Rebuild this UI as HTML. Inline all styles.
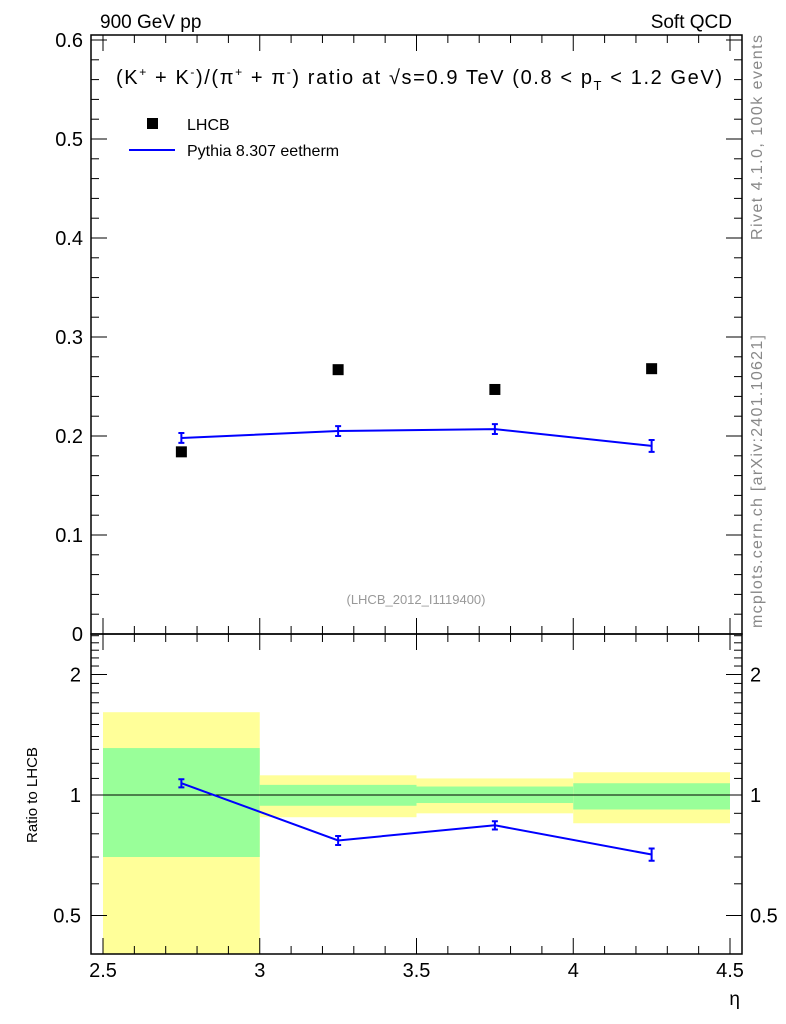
<!DOCTYPE html>
<html><head><meta charset="utf-8"><style>
body{margin:0;background:#fff}
svg{display:block;font-family:"Liberation Sans",Arial,sans-serif}
</style></head><body>
<svg id="c" width="786" height="1024" viewBox="0 0 786 1024" xmlns="http://www.w3.org/2000/svg">
<text x="100" y="28" font-size="19">900 GeV pp</text>
<text x="732" y="28" font-size="19" text-anchor="end">Soft QCD</text>
<text x="116" y="84" font-size="20" textLength="606" lengthAdjust="spacing">(K<tspan dy="-8" font-size="12">+</tspan><tspan dy="8"> + K</tspan><tspan dy="-8" font-size="12">-</tspan><tspan dy="8">)/(π</tspan><tspan dy="-8" font-size="12">+</tspan><tspan dy="8"> + π</tspan><tspan dy="-8" font-size="12">-</tspan><tspan dy="8">) ratio at √s=0.9 TeV (0.8 &lt; p</tspan><tspan dy="6" font-size="13">T</tspan><tspan dy="-6"> &lt; 1.2 GeV)</tspan></text>
<rect x="147" y="118" width="11" height="11" fill="#000"/>
<text x="187" y="130" font-size="16">LHCB</text>
<line x1="129" y1="150" x2="175" y2="150" stroke="#0000ff" stroke-width="2"/>
<text x="187" y="156" font-size="16">Pythia 8.307 eetherm</text>
<text x="416" y="604" font-size="13" fill="#999" text-anchor="middle">(LHCB_2012_I1119400)</text>
<text transform="translate(762,240) rotate(-90)" font-size="16" fill="#888" textLength="205" lengthAdjust="spacing">Rivet 4.1.0,  100k events</text>
<text transform="translate(762,628) rotate(-90)" font-size="16" fill="#888" textLength="293" lengthAdjust="spacing">mcplots.cern.ch [arXiv:2401.10621]</text>
<text transform="translate(37,795) rotate(-90)" font-size="15" text-anchor="middle">Ratio to LHCB</text>
<text x="740" y="1005" font-size="19" text-anchor="end">η</text>
<g id="g"></g>
</svg>
<script>
const binEdges=[2.5,3,3.5,4,4.5];
const xCenters=[2.75,3.25,3.75,4.25];
const lhcb=[0.184,0.267,0.247,0.268];
const pythia=[0.198,0.205,0.207,0.190];
const pythiaErr=[0.005,0.005,0.005,0.006];
const ratio=[1.07,0.77,0.84,0.71];
const ratioErr=[0.025,0.02,0.02,0.025];
const greenLo=[0.70,0.94,0.955,0.92];
const greenHi=[1.31,1.06,1.05,1.07];
const yellowLo=[0.30,0.88,0.90,0.85];
const yellowHi=[1.61,1.12,1.10,1.14];
const yTicks=[0,0.1,0.2,0.3,0.4,0.5,0.6];
const yTickLabels=["0","0.1","0.2","0.3","0.4","0.5","0.6"];
const xTicks=[2.5,3,3.5,4,4.5];
const xTickLabels=["2.5","3","3.5","4","4.5"];
const rTicks=[0.5,1,2];
const rTickLabels=["0.5","1","2"];

const NS="http://www.w3.org/2000/svg",G=document.getElementById('g');
const L=91,R=742,T=35,M=634,B=954;
const X=v=>103+(v-2.5)*313.5;
const Y=v=>634-v*990;
const RY=v=>795-Math.log2(v)*120.5;
function mk(t,a,name){const e=document.createElementNS(NS,t);for(const k in a)e.setAttribute(k,a[k]);


G.appendChild(e);return e;}
const cl=v=>Math.max(M,Math.min(B,v));
for(let i=0;i<4;i++){
 const x0=X(binEdges[i]),x1=X(binEdges[i+1]);
 let a=cl(RY(yellowHi[i])),b=cl(RY(yellowLo[i]));
 mk('rect',{x:x0,y:a,width:x1-x0,height:b-a,fill:'#ffff99'},'yellow-band-'+i);
 a=cl(RY(greenHi[i]));b=cl(RY(greenLo[i]));
 mk('rect',{x:x0,y:a,width:x1-x0,height:b-a,fill:'#99ff99'},'green-band-'+i);
}
mk('line',{x1:L,x2:R,y1:RY(1),y2:RY(1),stroke:'#000','stroke-width':1},'ratio-unity-line');
mk('rect',{x:L,y:T,width:R-L,height:M-T,fill:'none',stroke:'#000','stroke-width':1.5},'main-frame');
mk('rect',{x:L,y:M,width:R-L,height:B-M,fill:'none',stroke:'#000','stroke-width':1.5},'ratio-frame');
for(let v=0;v<=0.6001;v+=0.02){const y=Y(v);if(y<T)continue;const maj=Math.abs(v*10-Math.round(v*10))<1e-6;const l=maj?16:8;
 mk('line',{x1:L,x2:L+l,y1:y,y2:y,stroke:'#000'},'y-tick');mk('line',{x1:R,x2:R-l,y1:y,y2:y,stroke:'#000'},'y-tick-right');}
yTicks.forEach((v,i)=>{const t=mk('text',{x:L-8,y:Y(v)+7,'font-size':20,'text-anchor':'end'},'y-tick-label');t.textContent=yTickLabels[i];});
for(let v=2.5;v<=4.5001;v+=0.1){const maj=Math.abs(v*2-Math.round(v*2))<1e-6;const l=maj?16:8;const x=X(v);
 mk('line',{x1:x,x2:x,y1:M,y2:M-l,stroke:'#000'},'x-tick');mk('line',{x1:x,x2:x,y1:T,y2:T+l,stroke:'#000'},'x-tick-top');
 mk('line',{x1:x,x2:x,y1:B,y2:B-l,stroke:'#000'},'x-tick-ratio');mk('line',{x1:x,x2:x,y1:M,y2:M+l,stroke:'#000'},'x-tick-ratio-top');}
xTicks.forEach((v,i)=>{const t=mk('text',{x:X(v),y:977,'font-size':20,'text-anchor':'middle'},'x-tick-label');t.textContent=xTickLabels[i];});
const rm=[0.4,0.5,0.6,0.7,0.8,0.9,1,1.1,1.2,1.3,1.4,1.5,1.6,1.7,1.8,1.9,2,2.1,2.2,2.3,2.4,2.5];
rm.forEach(v=>{const y=RY(v);if(y<M||y>B)return;const maj=rTicks.includes(v);const l=maj?16:8;
 mk('line',{x1:L,x2:L+l,y1:y,y2:y,stroke:'#000'},'ratio-tick');mk('line',{x1:R,x2:R-l,y1:y,y2:y,stroke:'#000'},'ratio-tick-right');});
rTicks.forEach((v,i)=>{const t=mk('text',{x:L-10,y:RY(v)+7,'font-size':20,'text-anchor':'end'},'ratio-tick-label');t.textContent=rTickLabels[i];
 const t2=mk('text',{x:R+8,y:RY(v)+7,'font-size':20},'ratio-tick-label-right');t2.textContent=rTickLabels[i];});
mk('polyline',{points:xCenters.map((x,i)=>X(x)+','+Y(pythia[i])).join(' '),fill:'none',stroke:'#0000ff','stroke-width':2},'pythia-line');
xCenters.forEach((x,i)=>{const cx=X(x),a=Y(pythia[i]+pythiaErr[i]),b=Y(pythia[i]-pythiaErr[i]);
 mk('path',{d:`M${cx},${a}V${b}M${cx-3},${a}h6M${cx-3},${b}h6`,stroke:'#0000ff','stroke-width':2,fill:'none'},'pythia-error-bar');
 mk('rect',{x:cx-5.5,y:Y(lhcb[i])-5.5,width:11,height:11,fill:'#000'},'lhcb-point');});
mk('polyline',{points:xCenters.map((x,i)=>X(x)+','+RY(ratio[i])).join(' '),fill:'none',stroke:'#0000ff','stroke-width':2},'ratio-line');
xCenters.forEach((x,i)=>{const cx=X(x),a=RY(ratio[i]+ratioErr[i]),b=RY(ratio[i]-ratioErr[i]);
 mk('path',{d:`M${cx},${a}V${b}M${cx-3},${a}h6M${cx-3},${b}h6`,stroke:'#0000ff','stroke-width':2,fill:'none'},'ratio-error-bar');});
</script>
</body></html>
